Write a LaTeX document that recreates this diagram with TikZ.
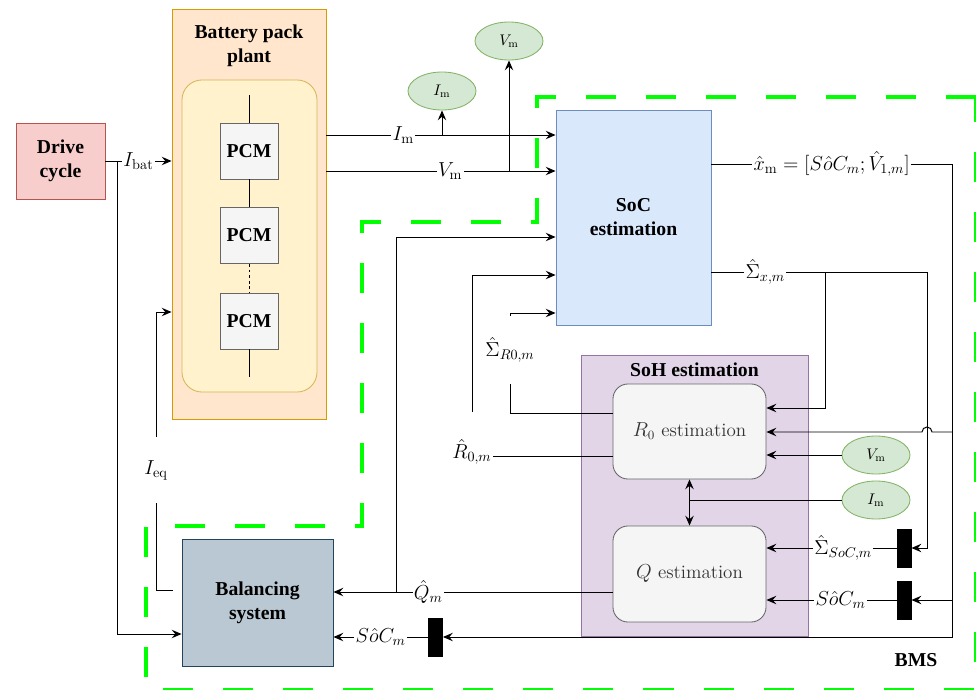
\documentclass[tikz,border=0pt]{standalone}
\usepackage{fontspec}
\usepackage{amsmath}
\usetikzlibrary{arrows.meta, calc, shapes.geometric}
\newfontfamily\tnr{Liberation Serif}

\definecolor{drivefill}{HTML}{F8CECC}
\definecolor{driveline}{HTML}{B85450}
\definecolor{plantfill}{HTML}{FFE6CC}
\definecolor{plantline}{HTML}{D79B00}
\definecolor{packfill}{HTML}{FFF2CC}
\definecolor{packline}{HTML}{D6B656}
\definecolor{pcmfill}{HTML}{F5F5F5}
\definecolor{pcmline}{HTML}{666666}
\definecolor{socfill}{HTML}{DAE8FC}
\definecolor{socline}{HTML}{6C8EBF}
\definecolor{sohfill}{HTML}{E1D5E7}
\definecolor{sohline}{HTML}{9673A6}
\definecolor{balfill}{HTML}{BAC8D3}
\definecolor{balline}{HTML}{23445D}
\definecolor{measfill}{HTML}{D5E8D4}
\definecolor{measline}{HTML}{82B366}
\definecolor{bmsgreen}{HTML}{00FF00}
\definecolor{esttext}{HTML}{333333}

\begin{document}
\begin{tikzpicture}[x=0.025cm, y=-0.025cm, line width=0.7pt,
  >={Stealth[length=7pt, width=6pt, inset=2.5pt]},
  box/.style={draw, line width=0.6pt, align=center, inner sep=0pt, font=\tnr\bfseries\fontsize{14}{17}\selectfont},
  title/.style={align=center, inner sep=0pt, font=\tnr\bfseries\fontsize{14}{17}\selectfont},
  est/.style={draw=pcmline, fill=pcmfill, line width=0.6pt, rounded corners=0.375cm, minimum width=3.825cm, text=esttext, font=\fontsize{13.5}{15}\selectfont},
  meas/.style={ellipse, draw=measline, fill=measfill, line width=0.6pt, minimum width=1.7cm, minimum height=0.95cm, inner sep=0pt, font=\fontsize{11}{13}\selectfont},
  hold/.style={fill=black, draw=black, minimum width=0.35cm, minimum height=0.95cm, inner sep=0pt},
  lbl/.style={fill=white, inner sep=1pt, font=\fontsize{14.5}{16}\selectfont},
  bmsline/.style={draw=bmsgreen, line width=2.8pt, dash pattern=on 0.75cm off 0.75cm}]

\clip (0,0) rectangle (976,690);

\draw[bmsline] (976,97) -- (537,97) -- (537,222) -- (362,222) -- (362,526) -- (146,526) -- (146,690) -- (976,690) -- cycle;

\node[box, fill=drivefill, draw=driveline, minimum width=2.225cm, minimum height=1.9cm] (drive) at (60.5,161) {Drive\\cycle};

\node[draw=plantline, fill=plantfill, line width=0.6pt, minimum width=3.85cm, minimum height=10.25cm] (plant) at (249,214) {};
\node[title] (planttitle) at (249,46) {Battery pack\\plant};
\node[draw=packline, fill=packfill, line width=0.6pt, rounded corners=0.5cm, minimum width=3.375cm, minimum height=7.8cm] (pack) at (249.5,236) {};

\node[box, fill=pcmfill, draw=pcmline, minimum width=1.45cm, minimum height=1.4cm] (pcm1) at (249,151) {PCM};
\node[box, fill=pcmfill, draw=pcmline, minimum width=1.45cm, minimum height=1.4cm] (pcm2) at (249,235.5) {PCM};
\node[box, fill=pcmfill, draw=pcmline, minimum width=1.45cm, minimum height=1.4cm] (pcm3) at (249,321) {PCM};

\draw[line width=0.5pt] (pcm1.north |- 0,95) -- (pcm1);
\draw[line width=0.5pt] (pcm1) -- (pcm2);
\draw[line width=0.5pt, dash pattern=on 2pt off 2pt] (pcm2) -- (pcm3);
\draw[line width=0.5pt] (pcm3) -- (pcm3.south |- 0,377);

\node[box, fill=socfill, draw=socline, minimum width=3.875cm, minimum height=5.375cm] (soc) at (633.5,217.5) {SoC\\estimation};

\node[draw=sohline, fill=sohfill, line width=0.6pt, minimum width=5.675cm, minimum height=7.025cm] (soh) at (694.5,495.5) {};
\node[title] (sohtitle) at (694.5,370) {SoH estimation};
\node[est, minimum height=2.375cm] (r0) at (689.5,431.5) {$R_0$ estimation};
\node[est, minimum height=2.4cm] (q) at (689.5,574) {$Q$ estimation};

\node[box, fill=balfill, draw=balline, minimum width=3.775cm, minimum height=3.175cm] (bal) at (257.5,602.5) {Balancing\\system};

\node[meas] (imtop) at (442,91) {$I_\mathrm{m}$};
\node[meas] (vmtop) at (509,41) {$V_\mathrm{m}$};
\node[meas] (vmr) at (876,455) {$V_\mathrm{m}$};
\node[meas] (imr) at (876,500) {$I_\mathrm{m}$};

\node[hold] (bar1) at (904,548) {};
\node[hold] (bar2) at (904,600) {};
\node[hold] (bar3) at (435.5,637) {};

\node[title] (bms) at (916,660) {BMS};

% plant side
\draw[->] (drive) -- node[lbl]{$I_\mathrm{bat}$} (plant.west |- drive);
\draw[->] (117,161) |- (bal.west |- 0,634);
\draw[->] ($(bal.west)+(-9,-12.5)$) -- (156,590) -- node[lbl, pos=0.43, minimum height=1.65cm]{$I_\mathrm{eq}$} (156,312) -- (plant.west |- 0,312);

\draw[->] (plant.east |- 0,135) -- node[lbl, pos=0.335]{$I_\mathrm{m}$} (soc.west |- 0,135);
\draw[->] (imtop.south |- 0,135) -- (imtop.south);
\draw[->] (plant.east |- 0,171) -- node[lbl, pos=0.54]{$V_\mathrm{m}$} (soc.west |- 0,171);
\draw[->] (vmtop.south |- 0,171) -- (vmtop.south);

% SoC outputs
\draw[->] (soc.east |- 0,164) -- node[lbl]{$\hat{x}_\mathrm{m} = [S\hat{o}C_m; \hat{V}_{1,m}]$} (952,164) |- (bar3.east);
\draw[->] (952,432) -- (932,432) arc[start angle=0, end angle=180, radius=0.125cm] -- (r0.east |- 0,432);
\draw[->] (952,600) -- (bar2.east);

\draw[->] (soc.east |- 0,272) -- node[lbl, pos=0.25]{$\hat{\Sigma}_{x,m}$} (927,272) |- (bar1.east);
\draw[->] (825,272) |- (r0.east |- 0,408);

\draw[->] (bar1.west) -- node[lbl, pos=0.41]{$\hat{\Sigma}_{SoC,m}$} (q.east |- bar1.west);
\draw[->] (bar2.west) -- node[lbl, pos=0.43]{$S\hat{o}C_m$} (q.east |- bar2.west);
\draw[->] (bar3.west) -- node[lbl]{$S\hat{o}C_m$} (bal.east |- bar3.west);

\draw[->] (vmr.west) -- (r0.east |- vmr.west);
\draw (imr.west) -- (r0.south |- imr.west);
\draw[<->] (r0.south) -- (q.north);

% SoH outputs
\draw[->] (r0.west |- 0,413) -- (510,413) -- node[lbl, pos=0.63, minimum height=1.7cm]{$\hat{\Sigma}_{R0,m}$} (510,313) -- (soc.west |- 0,313);

\node[lbl] (r0lbl) at (472,452) {$\hat{R}_{0,m}$};
\draw (r0.west |- 0,456) -- (r0lbl.east |- 0,456);
\draw[->] (r0lbl.center |- 0,412) |- (soc.west |- 0,275);

\draw[->] (q.west |- 0,592) -- node[lbl, pos=0.66]{$\hat{Q}_m$} (bal.east |- 0,592);
\draw[->] (396,592) |- (soc.west |- 0,237);

\end{tikzpicture}
\end{document}
